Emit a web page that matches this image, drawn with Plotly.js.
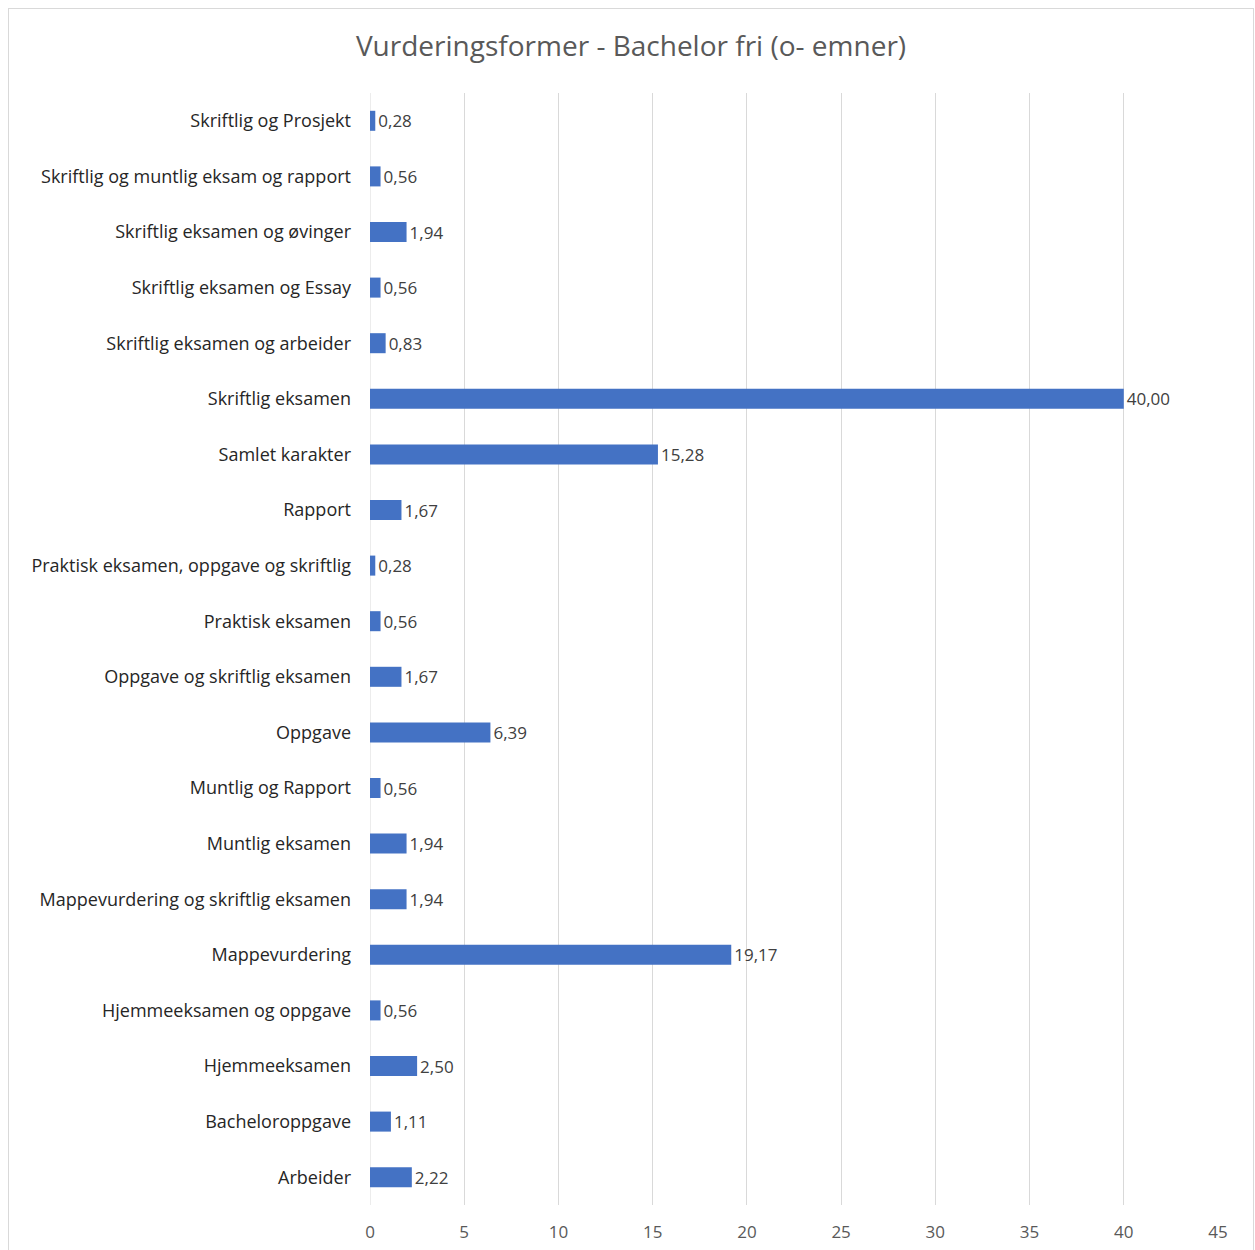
<!DOCTYPE html>
<html>
<head>
<meta charset="utf-8">
<script src="https://cdn.plot.ly/plotly-3.0.1.min.js"></script>
<style>
html,body{margin:0;padding:0;background:#fff;}
#wrap{position:absolute;left:8px;top:8px;width:1244px;height:1260px;border:1px solid #d9d9d9;}
#chart{width:1244px;height:1241px;}
</style>
</head>
<body>
<div id="wrap"><div id="chart"></div></div>
<script>
const categories = [
  "Skriftlig og Prosjekt",
  "Skriftlig og muntlig eksam og rapport",
  "Skriftlig eksamen og øvinger",
  "Skriftlig eksamen og Essay",
  "Skriftlig eksamen og arbeider",
  "Skriftlig eksamen",
  "Samlet karakter",
  "Rapport",
  "Praktisk eksamen, oppgave og skriftlig",
  "Praktisk eksamen",
  "Oppgave og skriftlig eksamen",
  "Oppgave",
  "Muntlig og Rapport",
  "Muntlig eksamen",
  "Mappevurdering og skriftlig eksamen",
  "Mappevurdering",
  "Hjemmeeksamen og oppgave",
  "Hjemmeeksamen",
  "Bacheloroppgave",
  "Arbeider"
];
const values = [0.28, 0.56, 1.94, 0.56, 0.83, 40.00, 15.28, 1.67, 0.28, 0.56, 1.67, 6.39, 0.56, 1.94, 1.94, 19.17, 0.56, 2.50, 1.11, 2.22];
const xTicks = [0, 5, 10, 15, 20, 25, 30, 35, 40, 45];
const chartTitle = "Vurderingsformer - Bachelor fri (o- emner)";

const font = "Open Sans, Noto Sans, sans-serif";

Plotly.newPlot("chart", [{
  type: "bar",
  orientation: "h",
  y: categories,
  x: values,
  width: 0.36,
  marker: {color: "#4472C4"},
  texttemplate: "%{x:.2f}",
  textposition: "outside",
  constraintext: "none",
  cliponaxis: false,
  textfont: {family: font, size: 17, color: "#404040"},
  hoverinfo: "x+y"
}], {
  width: 1244,
  height: 1241,
  separators: ", ",
  margin: {l: 361, r: 35, t: 84, b: 45},
  paper_bgcolor: "#ffffff",
  plot_bgcolor: "#ffffff",
  title: {
    text: chartTitle,
    font: {family: font, size: 28, color: "#595959"},
    x: 0.5, xref: "container", y: 0.970, yref: "container", yanchor: "middle"
  },
  xaxis: {
    range: [0, 45],
    tickvals: xTicks,
    ticktext: xTicks.map(String),
    showgrid: true,
    gridcolor: "#d9d9d9",
    gridwidth: 1,
    zeroline: false,
    showline: false,
    ticks: "",
    ticklabelstandoff: 15,
    tickfont: {family: font, size: 17, color: "#595959"},
    fixedrange: true
  },
  yaxis: {
    type: "category",
    autorange: "reversed",
    showgrid: false,
    zeroline: false,
    showline: false,
    ticks: "",
    ticklabelstandoff: 18,
    tickfont: {family: font, size: 18, color: "#262626"},
    fixedrange: true
  },
  shapes: [{
    type: "line", xref: "x", yref: "paper", x0: 0, x1: 0, y0: 0, y1: 1,
    line: {color: "#d9d9d9", width: 1}, layer: "below"
  }],
  showlegend: false
}, {displayModeBar: false, staticPlot: false});
</script>
</body>
</html>
